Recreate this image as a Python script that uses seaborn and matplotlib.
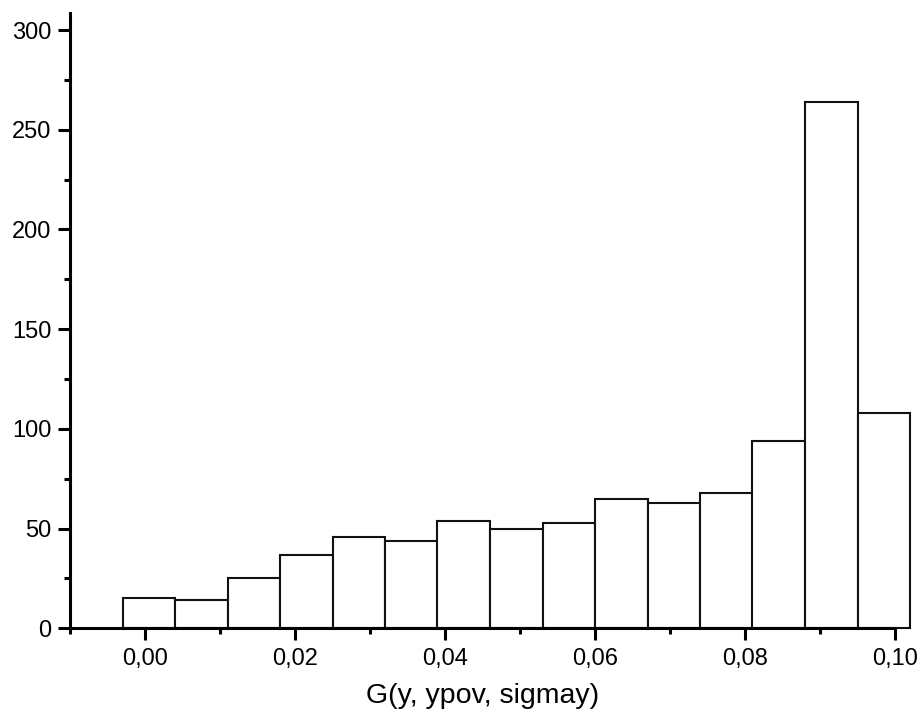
import numpy as np
import pandas as pd
import seaborn as sns
import matplotlib
matplotlib.use("Agg")
import matplotlib.pyplot as plt
from matplotlib.ticker import MultipleLocator, FuncFormatter

# Data
bin_edges = [-0.003, 0.004, 0.011, 0.018, 0.025, 0.032, 0.039, 0.046,
             0.053, 0.060, 0.067, 0.074, 0.081, 0.088, 0.095, 0.102]
counts = [15, 14, 25, 37, 46, 44, 54, 50, 53, 65, 63, 68, 94, 264, 108]
x_label = "G(y, ypov, sigmay)"
x_ticks = [0.00, 0.02, 0.04, 0.06, 0.08, 0.10]
y_ticks = [0, 50, 100, 150, 200, 250, 300]

edges = np.array(bin_edges)
centers = (edges[:-1] + edges[1:]) / 2
df = pd.DataFrame({"x": centers, "w": counts})

sns.set_style("ticks")
plt.rcParams['font.family'] = ['Liberation Sans', 'DejaVu Sans']

fig = plt.figure(figsize=(9.2, 7.13), dpi=100)
ax = fig.add_axes([70/920, 1 - 628.3/713, (895-70)/920, (628.3-12.7)/713])

sns.histplot(data=df, x="x", weights="w", bins=list(bin_edges), ax=ax,
             color="white", edgecolor="black", linewidth=1.5, alpha=1,
             element="bars", fill=True)
for p in ax.patches:
    p.set_clip_on(False)
    p.set_facecolor("white")
    p.set_edgecolor("#111111")

ax.set_xlim(-0.01, 0.10)
ax.set_ylim(0, 308.7)
ax.set_xticks(x_ticks)
ax.set_yticks(y_ticks)
ax.xaxis.set_minor_locator(MultipleLocator(0.01))
ax.yaxis.set_minor_locator(MultipleLocator(25))
ax.xaxis.set_major_formatter(FuncFormatter(lambda v, p: f"{v:.2f}".replace(".", ",")))

for side in ["top", "right"]:
    ax.spines[side].set_visible(False)
for side in ["left", "bottom"]:
    ax.spines[side].set_linewidth(2.2)
    ax.spines[side].set_color("black")
    ax.spines[side].set_zorder(5)

ax.tick_params(axis="both", which="major", direction="out", length=8.5,
               width=2.2, labelsize=17, colors="black", pad=5)
ax.tick_params(axis="both", which="minor", direction="out", length=4.5,
               width=2.2, colors="black")
ax.tick_params(axis="x", which="major", pad=6)

ax.set_xlabel(x_label, fontsize=20.5, labelpad=9, color="black")
ax.set_ylabel("")

fig.savefig("out.png", dpi=100, facecolor="white")
